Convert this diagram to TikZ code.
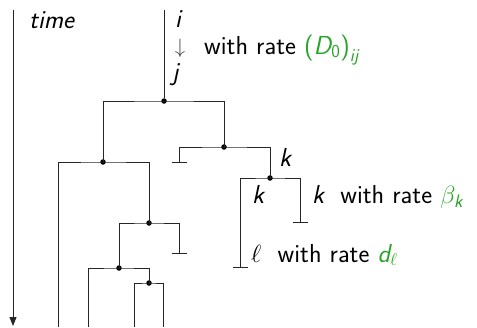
\documentclass[tikz,border=0pt]{standalone}
\usepackage{amsmath}
\usetikzlibrary{arrows.meta}
\definecolor{rategreen}{RGB}{40,165,40}
\newcommand{\si}[1]{\text{\sffamily\itshape #1}}
\newcommand{\su}[1]{\text{\sffamily #1}}
\begin{document}
\begin{tikzpicture}[x=1pt,y=-1pt,
  br/.style={line width=0.9pt,draw=black!85},
  jdot/.style={circle,fill=black,inner sep=0pt,minimum size=5.5pt},
  lab/.style={inner sep=0pt,font=\fontsize{26}{30}\selectfont\sffamily},
  txt/.style={lab,anchor=base west}]
\useasboundingbox (0,0) rectangle (477,327);
% time axis
\coordinate (t0) at (13,10);
\coordinate (t1) at (13,326);
\draw[line width=0.9pt,draw=black!85,-{Triangle[length=9pt,width=7pt]}] (t0) -- (t1);
\node[txt] (time) at (29,28) {\itshape time};
% main stem
\coordinate (r0) at (164,10);
\node[jdot] (n1) at (164,101) {};
\draw[br] (r0) -- (n1);
\node[txt] (li) at (175,27) {\itshape i};
\node[inner sep=0pt,text=black!75,font=\fontsize{22}{26}\selectfont] (arr) at (180,48) {$\downarrow$};
\node[txt] (lj) at (172,80) {\itshape j};
\node[txt] (t1lab) at (204,54) {with rate \textcolor{rategreen}{$\su{(}\si{D}_{\su{0}}\su{)}_{\si{ij}}$}};
% junctions
\node[jdot] (n2) at (103,162) {};
\node[jdot] (n3) at (224,147) {};
\node[jdot] (n4) at (270,178) {};
\node[jdot] (n5) at (149,223) {};
\node[jdot] (n6) at (119,268) {};
\node[jdot] (n7) at (149,283) {};
% n1 branches
\draw[br] (n2.center) |- (n1.center) -| (n3.center);
% n2 branches
\coordinate (b58) at (58,327);
\draw[br] (b58) |- (n2.center) -| (n5.center);
% n3 branches
\coordinate (e1) at (179,162);
\draw[br] (e1) |- (n3.center) -| (n4.center);
\draw[br] ([xshift=-7.5pt]e1) -- ([xshift=7.5pt]e1);
% n4 branches
\coordinate (e2) at (240,267);
\coordinate (e3) at (300,222);
\draw[br] (e2) |- (n4.center) -| (e3);
\draw[br] ([xshift=-7.5pt]e2) -- ([xshift=7.5pt]e2);
\draw[br] ([xshift=-7.5pt]e3) -- ([xshift=7.5pt]e3);
% n5 branches
\coordinate (e4) at (179,253);
\draw[br] (n6.center) |- (n5.center) -| (e4);
\draw[br] ([xshift=-7.5pt]e4) -- ([xshift=7.5pt]e4);
% n6 branches
\coordinate (b88) at (88,327);
\draw[br] (b88) |- (n6.center) -| (n7.center);
% n7 branches
\coordinate (b134) at (134,327);
\coordinate (b163) at (163,327);
\draw[br] (b134) |- (n7.center) -| (b163);
% labels
\node[txt] (k1) at (279,166) {\itshape k};
\node[txt] (k2) at (252,203) {\itshape k};
\node[txt] (k3) at (312,203) {\itshape k\upshape\ \ with rate \textcolor{rategreen}{$\beta_{\si{k}}$}};
\node[txt] (l1) at (251,262) {$\ell$\ \ with rate \textcolor{rategreen}{$\si{d}_\ell$}};
\end{tikzpicture}
\end{document}
